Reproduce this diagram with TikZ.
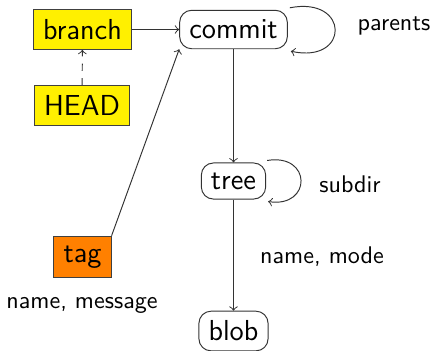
\documentclass[tikz,border=0pt]{standalone}
\usepackage{xcolor}
\definecolor{refyellow}{RGB}{255,240,0}
\definecolor{reforange}{RGB}{255,128,0}
\begin{document}
\begin{tikzpicture}[x=0.415pt,y=-0.415pt,font=\sffamily,
  obj/.style={draw=black!80,rounded corners=5pt,inner sep=4pt,font=\sffamily\large},
  ref/.style={draw=black!75,inner sep=4pt,font=\sffamily\large},
  lbl/.style={font=\sffamily},
  conn/.style={->,draw=black!80}]
\useasboundingbox (0,0) rectangle (433,350);
\node[ref,fill=refyellow] (branch) at (82.5,29.5) {branch};
\node[ref,fill=refyellow] (head) at (82,105.5) {HEAD};
\node[ref,fill=reforange] (tag) at (82.5,257) {tag};
\node[obj] (commit) at (233.5,29.5) {commit};
\node[obj] (tree) at (233.5,181) {tree};
\node[obj] (blob) at (233.5,331) {blob};
\node[lbl] (lparents) at (394,26) {parents};
\node[lbl] (lsubdir) at (350,184) {subdir};
\node[lbl] (lmode) at (322,257) {name, mode};
\node[lbl] (lmessage) at (82,305) {name, message};
\draw[conn] (branch) -- (commit);
\draw[conn,dashed] (head) -- (branch);
\draw[conn] (tag.north east) -- (commit.south west);
\draw[conn] (commit) -- (tree);
\draw[conn] (tree) -- (blob);
\draw[conn] ([shift={(2,-2)}]commit.north east) .. controls (350,-4) and (350,64) .. ([shift={(3,2)}]commit.south east);
\draw[conn] ([shift={(1,-2)}]tree.north east) .. controls (312,153) and (312,208) .. ([shift={(2,2)}]tree.south east);
\end{tikzpicture}
\end{document}
